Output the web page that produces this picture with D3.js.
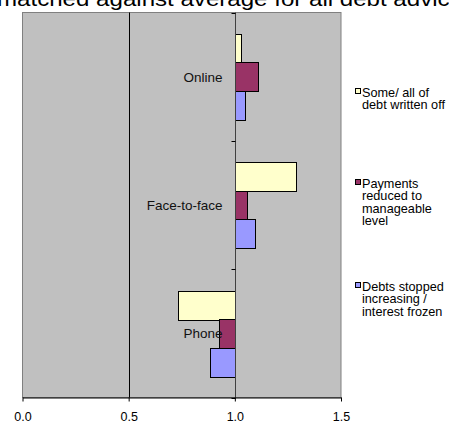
<!DOCTYPE html>
<html><head><meta charset="utf-8">
<script src="https://cdn.jsdelivr.net/npm/d3@7"></script>
<style>body{margin:0;background:#fff;}svg{display:block;font-family:"Liberation Sans",Arial,sans-serif;}</style>
</head><body>
<script>
const categories = ["Online", "Face-to-face", "Phone"];
const seriesNames = ["Some/ all of debt written off", "Payments reduced to manageable level", "Debts stopped increasing / interest frozen"];
const writtenOff = [1.03, 1.29, 0.73];
const paymentsReduced = [1.11, 1.055, 0.925];
const debtsStopped = [1.05, 1.095, 0.885];
const xTicks = [0, 0.5, 1.0, 1.5];
const legendLines = [["Some/ all of", "debt written off"], ["Payments", "reduced to", "manageable", "level"], ["Debts stopped", "increasing /", "interest frozen"]];
const colors = ["#FFFFCC", "#993366", "#9999FF"];
const series = [writtenOff, paymentsReduced, debtsStopped];

const W = 449, H = 423;
const svg = d3.select("body").append("svg").attr("width", W).attr("height", H);

const plot = {left: 22.5, right: 341, top: 12.5, bottom: 397.5};
const x = d3.scaleLinear().domain([0, 1.5]).range([plot.left, plot.right]);
const y = d3.scaleBand().domain(categories).range([plot.top, plot.bottom]).padding(0);
const ySub = d3.scaleBand().domain([0, 1, 2]).range([0, y.bandwidth()]).paddingInner(0).paddingOuter(0.75);

// title (cut off at top in the reference)
svg.append("text").attr("x", -3).attr("y", 6).attr("font-size", 21).attr("fill", "#000")
  .attr("textLength", 466).attr("lengthAdjust", "spacingAndGlyphs")
  .text("matched against average for all debt advice");

// plot background
svg.append("rect").attr("x", plot.left).attr("y", plot.top)
  .attr("width", plot.right - plot.left).attr("height", plot.bottom - plot.top)
  .attr("fill", "#C0C0C0").attr("stroke", "#808080").attr("stroke-width", 1);

// gridline at 0.5
svg.append("line").attr("x1", Math.round(x(0.5)) + 0.5).attr("x2", Math.round(x(0.5)) + 0.5)
  .attr("y1", plot.top).attr("y2", plot.bottom).attr("stroke", "#000");

// bars
categories.forEach((c, ci) => {
  series.forEach((s, si) => {
    const v = s[ci];
    const x0 = x(Math.min(1, v)), x1 = x(Math.max(1, v));
    svg.append("rect")
      .attr("x", Math.round(x0) + 0.5).attr("y", Math.round(y(c) + ySub(si)) + 0.5)
      .attr("width", Math.round(x1) - Math.round(x0)).attr("height", Math.round(ySub.bandwidth()))
      .attr("fill", colors[si]).attr("stroke", "#000").attr("stroke-width", 1);
  });
});

// category axis at x=1.0
const ax = Math.round(x(1)) + 0.5;
svg.append("line").attr("x1", ax).attr("x2", ax).attr("y1", plot.top).attr("y2", plot.bottom)
  .attr("stroke", "#404040");
[plot.top, ...categories.map(c => y(c) + y.bandwidth())].forEach(t => {
  const yy = Math.round(t) + 0.5;
  svg.append("line").attr("x1", ax - 4).attr("x2", ax).attr("y1", yy).attr("y2", yy).attr("stroke", "#000");
});
categories.forEach(c => {
  svg.append("text").attr("x", ax - 13).attr("y", y(c) + y.bandwidth() / 2 + 5)
    .attr("text-anchor", "end").attr("font-size", 13.5).attr("fill", "#111").text(c);
});

// x axis
const xAxis = d3.axisBottom(x).tickValues(xTicks).tickFormat(d3.format(".1f")).tickSize(4).tickSizeOuter(0);
const gx = svg.append("g").attr("transform", `translate(0,${plot.bottom})`).call(xAxis);
gx.select(".domain").attr("stroke", "#000");
gx.selectAll(".tick line").attr("stroke", "#000");
gx.selectAll(".tick text").attr("font-size", 12.5).attr("font-family", "Liberation Sans, Arial, sans-serif")
  .attr("fill", "#000").attr("dy", 0).attr("y", 23.5);

// legend
const legendTop = [92, 183, 286];
legendLines.forEach((lines, i) => {
  svg.append("rect").attr("x", 355.5).attr("y", legendTop[i] - 3.5).attr("width", 5).attr("height", 5)
    .attr("fill", colors[i]).attr("stroke", "#000");
  const t = svg.append("text").attr("font-size", 12.7).attr("fill", "#000");
  lines.forEach((l, li) => {
    t.append("tspan").attr("x", 362).attr("y", legendTop[i] + 4.5 + li * 12.5).text(l);
  });
});
</script>
</body></html>
